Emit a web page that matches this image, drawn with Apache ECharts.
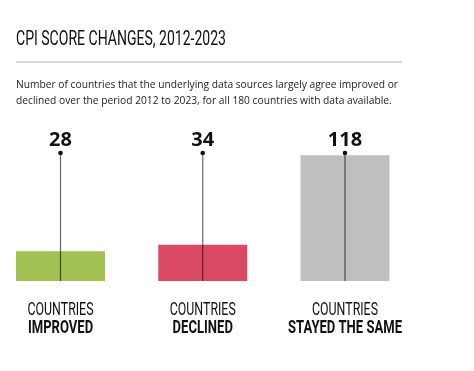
<!DOCTYPE html>
<html><head><meta charset="utf-8">
<script src="https://cdn.jsdelivr.net/npm/echarts@6/dist/echarts.min.js"></script>
<style>html,body{margin:0;padding:0;background:#fff}#c{width:474px;height:371px}</style>
</head><body><div id="c"></div>
<script>
const titleText = 'CPI SCORE CHANGES, 2012-2023';
const subtitleLines = [
  'Number of countries that the underlying data sources largely agree improved or',
  'declined over the period 2012 to 2023, for all 180 countries with data available.'
];
const categoryPrefix = 'COUNTRIES';
const categories = ['IMPROVED', 'DECLINED', 'STAYED THE SAME'];
const values = [28, 34, 118];
const barColors = ['#a2c152', '#d94961', '#bebfc1'];
const yMax = 120;

const headFont = 'Roboto, sans-serif';
const bodyFont = '"Open Sans", sans-serif';
const ctx = document.createElement('canvas').getContext('2d');
function measure(text, size, weight, family) {
  ctx.font = weight + ' ' + size + 'px ' + family;
  return ctx.measureText(text).width;
}
// horizontal squeeze factors so the condensed headline type keeps its width
const titleScale = 210 / measure(titleText, 21, 'normal', headFont);
const catScaleA = 66 / measure(categoryPrefix, 17.5, 'normal', headFont);
const catScaleB = 114 / measure(categories[2], 17.5, 'bold', headFont);
const subScale = 382 / measure(subtitleLines[0], 11, 'normal', bodyFont);

const chart = echarts.init(document.getElementById('c'), null, {renderer: 'canvas'});
chart.setOption({
  backgroundColor: '#fff',
  animation: false,
  graphic: [
    {type: 'text', x: 16, y: 39.5, scaleX: titleScale,
     style: {text: titleText, fontFamily: headFont, fontSize: 21, fontWeight: 'normal', fill: '#111', align: 'left', verticalAlign: 'middle'}},
    {type: 'line', shape: {x1: 16, y1: 62, x2: 402, y2: 62}, style: {stroke: '#c8c8c8', lineWidth: 1.5}},
    {type: 'text', x: 16, y: 85, scaleX: subScale,
     style: {text: subtitleLines[0], fontFamily: bodyFont, fontSize: 11, fill: '#222', align: 'left', verticalAlign: 'middle'}},
    {type: 'text', x: 16, y: 100.5, scaleX: subScale,
     style: {text: subtitleLines[1], fontFamily: bodyFont, fontSize: 11, fill: '#222', align: 'left', verticalAlign: 'middle'}}
  ],
  grid: {left: 0, width: 474, top: 153, height: 128},
  xAxis: {type: 'value', min: -60.5 / 142.25, max: -60.5 / 142.25 + 474 / 142.25, show: false, splitLine: {show: false}},
  yAxis: {type: 'value', min: 0, max: yMax, show: false, splitLine: {show: false}},
  series: [
    {
      type: 'bar', barWidth: 89,
      data: values.map((v, i) => ({value: [i, v], itemStyle: {color: barColors[i]}}))
    },
    {
      type: 'custom', z: 5,
      data: values.map((v, i) => [i, v]),
      renderItem: (params, api) => {
        const i = api.value(0);
        const top = api.coord([i, yMax]);
        const bottom = api.coord([i, 0]);
        return {
          type: 'group',
          children: [
            {type: 'line', shape: {x1: top[0], y1: top[1], x2: bottom[0], y2: bottom[1]},
             style: {stroke: 'rgba(0,0,0,0.6)', lineWidth: 1.2}},
            {type: 'circle', shape: {cx: top[0], cy: top[1], r: 2.3}, style: {fill: '#111'}},
            {type: 'text', x: top[0], y: top[1] - 13,
             style: {text: String(api.value(1)), fontFamily: bodyFont, fontWeight: 'bold',
                     fontSize: 20, fill: '#111', align: 'center', verticalAlign: 'middle'}},
            {type: 'text', x: bottom[0], y: bottom[1] + 29.5, scaleX: catScaleA,
             style: {text: categoryPrefix, fontFamily: headFont, fontWeight: 'normal', fontSize: 17.5, fill: '#111',
                     align: 'center', verticalAlign: 'middle'}},
            {type: 'text', x: bottom[0], y: bottom[1] + 47.5, scaleX: catScaleB,
             style: {text: categories[params.dataIndex], fontFamily: headFont, fontWeight: 'bold', fontSize: 17.5,
                     fill: '#111', align: 'center', verticalAlign: 'middle'}}
          ]
        };
      }
    }
  ]
});
</script></body></html>
